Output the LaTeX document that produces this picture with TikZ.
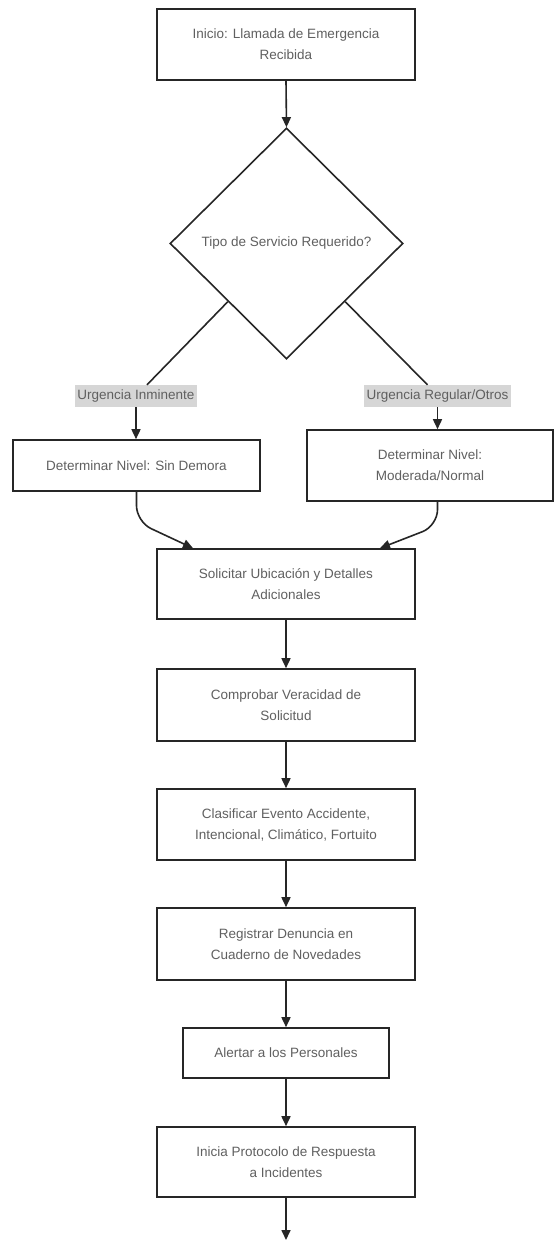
\documentclass[tikz,border=0pt]{standalone}
\usepackage{fontspec}
\setmainfont{Liberation Sans}
\usetikzlibrary{shapes.geometric,arrows.meta}
\definecolor{txt}{HTML}{606060}
\definecolor{lblbg}{HTML}{D6D6D6}
\begin{document}
\begin{tikzpicture}[x=1pt,y=-1pt,
  box/.style={draw=black!85, line width=1.6pt, fill=white, text=txt, align=center,
    font=\fontsize{13.5}{21}\selectfont, inner sep=0pt},
  dec/.style={draw=black!85, line width=1.6pt, shape=diamond, text=txt, align=center,
    font=\fontsize{13.5}{21}\selectfont, inner sep=0pt, minimum width=233pt, minimum height=231pt},
  lbl/.style={fill=lblbg, text=txt, font=\fontsize{13.5}{21}\selectfont, inner sep=0pt, minimum height=22pt},
  conn/.style={draw=black!85, line width=1.6pt},
  arr/.style={conn, -{Triangle[length=10pt,width=9pt]}}
]
\useasboundingbox (0,0) rectangle (555,1241);
\fill[white] (0,0) rectangle (555,1241);

\node[box, minimum width=258pt, minimum height=71pt] (start) at (286,44.5) {Inicio: Llamada de Emergencia\\Recibida};
\node[dec] (d) at (286.5,243.5) {Tipo de Servicio Requerido?};
\node[lbl, minimum width=122pt] (lab1) at (136,396) {Urgencia Inminente};
\node[lbl, minimum width=147pt] (lab2) at (437.5,396) {Urgencia Regular/Otros};
\node[box, minimum width=247pt, minimum height=51pt] (b1) at (136.5,465.5) {Determinar Nivel: Sin Demora};
\node[box, minimum width=246pt, minimum height=71pt] (b2) at (430,465.5) {Determinar Nivel:\\Moderada/Normal};
\node[box, minimum width=258pt, minimum height=70pt] (sol) at (286,584) {Solicitar Ubicación y Detalles\\Adicionales};
\node[box, minimum width=258pt, minimum height=72pt] (comp) at (286,705) {Comprobar Veracidad de\\Solicitud};
\node[box, minimum width=258pt, minimum height=71pt] (clas) at (286,824.5) {Clasificar Evento Accidente,\\Intencional, Climático, Fortuito};
\node[box, minimum width=258pt, minimum height=72pt] (reg) at (286,944) {Registrar Denuncia en\\Cuaderno de Novedades};
\node[box, minimum width=206pt, minimum height=50pt] (alert) at (286,1053) {Alertar a los Personales};
\node[box, minimum width=258pt, minimum height=70pt] (ini) at (286,1162) {Inicia Protocolo de Respuesta\\a Incidentes};
\coordinate (fin) at (286,1240);

\draw[arr] (start.south) -- (d.north);
\draw[conn] (d.south west) -- ([xshift=11pt]lab1.north);
\draw[arr] (lab1.south) -- (lab1.south |- b1.north);
\draw[conn] (d.south east) -- ([xshift=-10pt]lab2.north);
\draw[arr] (lab2.south) -- (lab2.south |- b2.north);
\draw[arr, rounded corners=16pt] (b1.south) -- ++(0,30) -- ([xshift=-93pt]sol.north);
\draw[arr, rounded corners=16pt] (lab2.south |- b2.south) -- ++(0,24) -- ([xshift=94pt]sol.north);
\draw[arr] (sol.south) -- (comp.north);
\draw[arr] (comp.south) -- (clas.north);
\draw[arr] (clas.south) -- (reg.north);
\draw[arr] (reg.south) -- (alert.north);
\draw[arr] (alert.south) -- (ini.north);
\draw[arr] (ini.south) -- (fin);
\end{tikzpicture}
\end{document}
